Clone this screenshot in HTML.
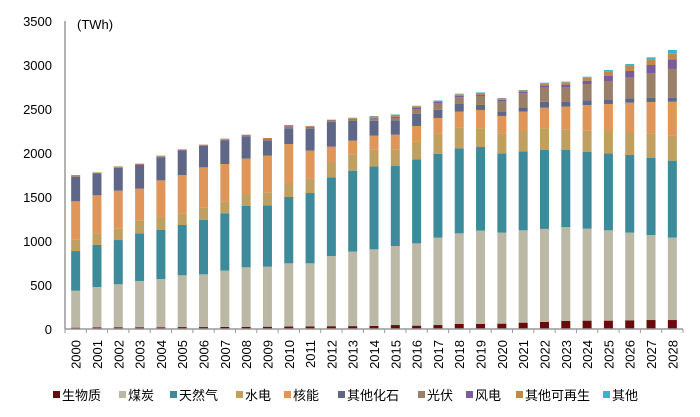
<!DOCTYPE html>
<html><head><meta charset="utf-8"><style>
body{margin:0;background:#fff;}
svg{display:block;font-family:"Liberation Sans","Noto Sans CJK SC",sans-serif;}
</style></head><body>
<svg id="chart" width="700" height="417" viewBox="0 0 700 417" xmlns="http://www.w3.org/2000/svg">
<text x="77" y="29" font-size="13" fill="#000">(TWh)</text>
<g id="yaxis"></g>
<g id="bars"></g>
<g id="xaxis"></g>
<g id="legend"></g>
</svg>
<script>
const years = ["2000","2001","2002","2003","2004","2005","2006","2007","2008","2009","2010","2011","2012","2013","2014","2015","2016","2017","2018","2019","2020","2021","2022","2023","2024","2025","2026","2027","2028"];
const seriesNames = ["生物质","煤炭","天然气","水电","核能","其他化石","光伏","风电","其他可再生","其他"];
const seriesColors = ["#6b0a0a","#bbb9a6","#3d8a9a","#bfa060","#e09658","#5f6789","#9a8068","#7a5c9a","#c0894a","#40b0d0"];
const yTicks = [0,500,1000,1500,2000,2500,3000,3500];
const bio   = [15,19,20,20,20,22,22,24,25,26,28,30,32,33,34,45,38,45,57,57,61,72,80,91,95,95,99,102,102];
const coal  = [420,458,488,526,548,588,599,639,676,682,718,716,797,846,871,898,935,993,1030,1061,1034,1049,1057,1068,1045,1026,996,966,936];
const gas   = [451,478,503,541,561,572,618,651,697,697,754,799,894,920,943,909,955,954,966,950,901,898,897,875,875,875,882,879,875];
const hydro = [129,132,129,144,144,129,144,137,136,144,159,167,175,186,190,186,201,228,235,209,224,231,246,235,239,254,262,273,288];
const nuclear = [436,432,432,364,416,439,454,424,402,421,443,315,174,155,159,170,178,178,182,212,201,220,235,258,291,307,333,360,382];
const otherFossil = [280,250,261,269,262,277,243,265,250,170,178,250,280,224,170,163,140,94,87,57,45,49,68,53,53,53,49,49,46];
const solar = [0,0,0,0,1,1,1,1,2,3,8,12,10,15,23,26,53,72,76,102,125,159,159,170,186,208,235,276,326];
const wind  = [2,3,4,5,6,7,8,10,12,14,15,9,8,10,10,15,19,16,15,15,15,15,27,27,38,57,76,95,109];
const otherRenew = [17,8,11,10,12,7,6,12,8,14,15,10,9,12,15,22,13,13,20,20,14,18,24,27,33,49,57,64,69];
const other = [0,0,0,0,0,0,0,0,0,0,0,0,0,0,5,5,5,5,6,6,5,5,6,7,12,19,22,23,38];
const series = [bio,coal,gas,hydro,nuclear,otherFossil,solar,wind,otherRenew,other];
const seriesKeys = ["bio","coal","gas","hydro","nuclear","other-fossil","solar","wind","other-renewable","other"];

const NS="http://www.w3.org/2000/svg";
const x0=65, x1=683, yBase=329, yTop=21, yMax=3500;
const slot=(x1-x0)/years.length, bw=9;
const yScale=v=>yBase-(v/yMax)*(yBase-yTop);
const xCenter=i=>x0+slot*(i+0.5);
function mk(tag,attrs,parent){const e=document.createElementNS(NS,tag);for(const k in attrs)e.setAttribute(k,attrs[k]);parent.appendChild(e);return e;}

const ya=document.getElementById('yaxis');
yTicks.forEach(t=>{
  const tx=mk('text',{x:52,y:yScale(t)+5,'font-size':13,'text-anchor':'end',fill:'#000'},ya);
  tx.textContent=t;
  
  
});
const yl=mk('line',{x1:x0,y1:yTop,x2:x0,y2:yBase,stroke:'#999','stroke-width':1.5},ya);



const bg=document.getElementById('bars');
years.forEach((yr,i)=>{
  let cum=0;
  series.forEach((s,k)=>{
    const v=s[i]; if(v<=0){return;}
    const yA=yScale(cum+v), yB=yScale(cum);
    const r=mk('rect',{x:xCenter(i)-bw/2,y:yA,width:bw,height:yB-yA,fill:seriesColors[k]},bg);
    
    
    cum+=v;
  });
});

const xa=document.getElementById('xaxis');
const xl=mk('line',{x1:x0,y1:yBase,x2:x1,y2:yBase,stroke:'#999','stroke-width':1.5},xa);


for(let i=0;i<=years.length;i++){
  const tk=mk('line',{x1:x0+slot*i,y1:yBase,x2:x0+slot*i,y2:yBase+4,stroke:'#999','stroke-width':1},xa);
  
  
}
years.forEach((yr,i)=>{
  const cx=xCenter(i)+5;
  const t=mk('text',{x:cx,y:340,'font-size':13,'text-anchor':'end',fill:'#000',transform:`rotate(-90 ${cx} 340)`},xa);
  t.textContent=yr;
  
  
});

const lg=document.getElementById('legend');
const lx=[53,119,170,236,284,338,418,466,516,603];
seriesNames.forEach((n,k)=>{
  const g=mk('g',{},lg);
  
  
  mk('rect',{x:lx[k],y:391,width:7,height:7,fill:seriesColors[k]},g);
  const t=mk('text',{x:lx[k]+9,y:400,'font-size':13,fill:'#000'},g);
  t.textContent=n;
});
</script>
</body></html>
